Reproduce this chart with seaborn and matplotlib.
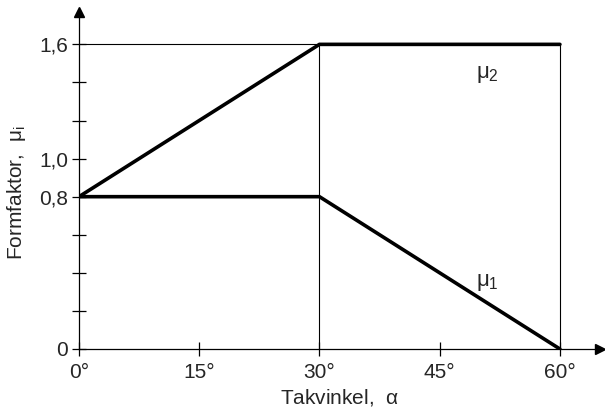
import numpy as np
import matplotlib
matplotlib.use("Agg")
import matplotlib.pyplot as plt
import seaborn as sns
import pandas as pd

# data
alpha = [0, 30, 60]
mu1 = [0.8, 0.8, 0.0]
mu2 = [0.8, 1.6, 1.6]
xticks = [0, 15, 30, 45, 60]
xticklabels = ["0°", "15°", "30°", "45°", "60°"]
yticks = [0, 0.8, 1.0, 1.6]
yticklabels = ["0", "0,8", "1,0", "1,6"]
yminor = [0.2, 0.4, 0.6, 1.2, 1.4]

sns.set_style("white")
plt.rcParams["font.family"] = ["Liberation Sans", "DejaVu Sans"]
plt.rcParams["mathtext.fontset"] = "custom"
plt.rcParams["mathtext.rm"] = "Liberation Sans"
plt.rcParams["mathtext.it"] = "Liberation Sans"

fig = plt.figure(figsize=(6.05, 4.07), dpi=100)
ax = fig.add_axes([79 / 605, 58 / 407, 521 / 605, 337 / 407])

df = pd.DataFrame({"alpha": alpha, "mu1": mu1, "mu2": mu2})

# thin guide lines
ax.hlines(1.6, 0, 60, color="black", lw=0.8, zorder=1)
ax.vlines([30, 60], 0, 1.6, color="black", lw=0.8, zorder=1)

sns.lineplot(data=df, x="alpha", y="mu1", color="black", lw=2.6, ax=ax,
             solid_joinstyle="miter", zorder=3)
sns.lineplot(data=df, x="alpha", y="mu2", color="black", lw=2.6, ax=ax,
             solid_joinstyle="miter", zorder=3)

ax.text(50.9, 1.44, r"$\mu_2$", fontsize=16, ha="center", va="center")
ax.text(50.9, 0.35, r"$\mu_1$", fontsize=16, ha="center", va="center")

ax.set_xlim(0, 65)
ax.set_ylim(0, 1.77)

for s in ["top", "right"]:
    ax.spines[s].set_visible(False)
for s in ["left", "bottom"]:
    ax.spines[s].set_color("black")
    ax.spines[s].set_linewidth(0.9)

ax.plot(1, 0, ">k", transform=ax.get_yaxis_transform(), clip_on=False, ms=7)
ax.plot(0, 1, "^k", transform=ax.get_xaxis_transform(), clip_on=False, ms=7)

ax.set_xticks(xticks)
ax.set_xticklabels(xticklabels, fontsize=15)
ax.set_yticks(yticks)
ax.set_yticklabels(yticklabels, fontsize=15)
ax.set_yticks(yminor, minor=True)
ax.tick_params(axis="both", which="both", direction="inout", length=10,
               width=0.9, color="black", left=True, bottom=True)
ax.tick_params(axis="x", pad=5)
ax.tick_params(axis="y", pad=3)

ax.set_xlabel(r"Takvinkel,  $\alpha$", fontsize=15, labelpad=4)
ax.set_ylabel(r"Formfaktor,  $\mu_i$", fontsize=15, labelpad=8)
ax.yaxis.set_label_coords(-0.097, 0.463)

fig.savefig("out.png", dpi=100)
